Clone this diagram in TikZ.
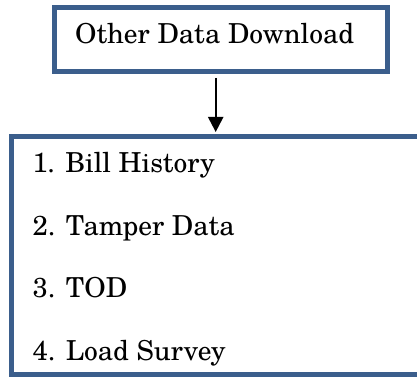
\documentclass[tikz,border=0pt]{standalone}
\usepackage{fontspec}
\setmainfont{TeX Gyre Schola}
\usetikzlibrary{arrows.meta}
\definecolor{boxblue}{HTML}{3B5E8C}
\tikzset{
  frame/.style={draw=boxblue, line width=5pt, fill=white, rectangle, inner sep=0pt},
  txt/.style={anchor=base west, inner sep=0pt, font=\fontsize{27.5}{32}\selectfont},
  arr/.style={line width=2.2pt, -{Triangle[length=15pt,width=15pt]}, shorten <=3.5pt, shorten >=2pt}
}
\begin{document}
\begin{tikzpicture}[x=1pt,y=-1pt]
\useasboundingbox (0,0) rectangle (417,379);
\clip (0,0) rectangle (417,379);
\node[frame, minimum width=333pt, minimum height=64.5pt] (top) at (221,39.75) {};
\node[txt] (t0) at (75,43.5) {Other Data Download};
\node[frame, minimum width=414pt, minimum height=238pt] (bot) at (218,255.5) {};
\node[txt] (l1) at (32.5,172.5) {1. Bill History};
\node[txt] (l2) at (32.5,235) {2. Tamper Data};
\node[txt] (l3) at (32.5,297.5) {3. TOD};
\node[txt] (l4) at (32.5,360) {4. Load Survey};
\coordinate (ax) at (215.7,0);
\draw[arr] (top.south -| ax) -- (bot.north -| ax);
\end{tikzpicture}
\end{document}
